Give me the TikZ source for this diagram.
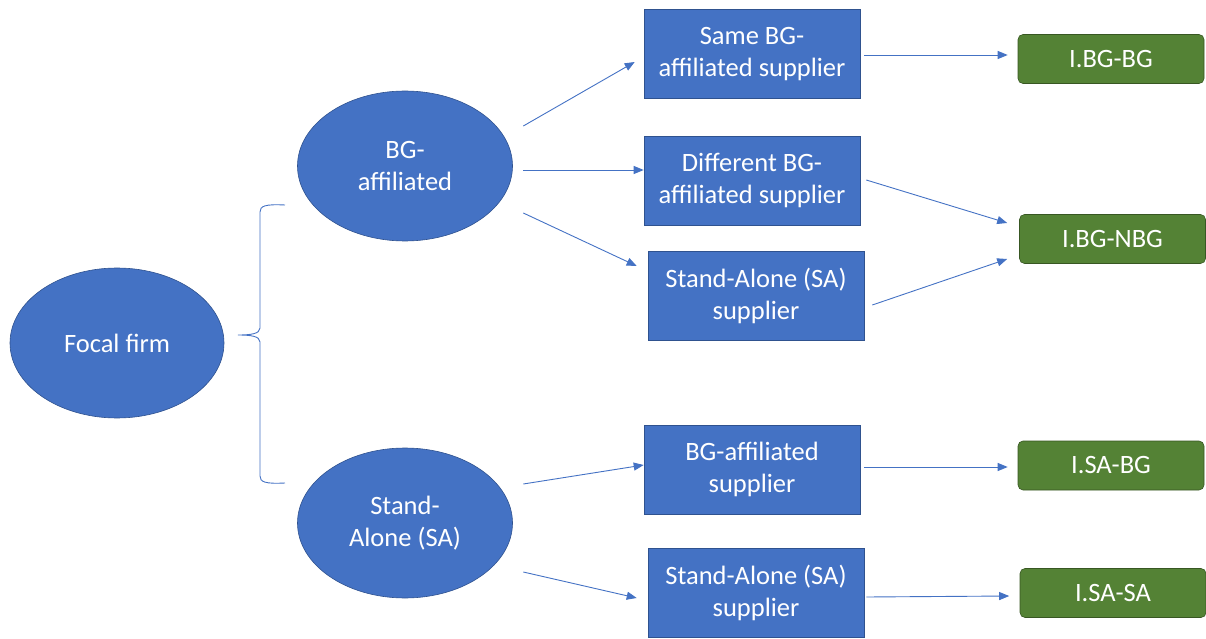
\documentclass[tikz,border=0pt]{standalone}
\usepackage{fontspec}
\setmainfont{Carlito}
\usetikzlibrary{arrows.meta}
\usetikzlibrary{positioning}
\usetikzlibrary{shapes.geometric}
\usetikzlibrary{calc}
\begin{document}
\begin{tikzpicture}[x=1pt,y=1pt]
  \definecolor{officeblue}{RGB}{68,114,196}
  \definecolor{blueline}{RGB}{47,82,143}
  \definecolor{officegreen}{RGB}{84,130,53}
  \definecolor{greenline}{RGB}{56,87,35}
  \tikzset{
    firm/.style={ellipse,draw=blueline,line width=0.6pt,fill=officeblue,text=white,
      inner sep=0pt,align=center,font=\fontsize{26.5}{32}\selectfont},
    supplier/.style={rectangle,draw=blueline,line width=0.6pt,fill=officeblue,text=white,
      minimum width=216,minimum height=89,inner sep=0pt,align=center,
      font=\fontsize{26.5}{32}\selectfont},
    outcome/.style={rectangle,rounded corners=5pt,draw=greenline,line width=0.6pt,
      fill=officegreen,text=white,minimum width=186,minimum height=49,inner sep=0pt,
      font=\fontsize{26.5}{32}\selectfont},
    link/.style={draw=officeblue,line width=0.9pt,-{Triangle[length=10pt,width=8pt]}},
  }
  \useasboundingbox (0,0) rectangle (1206,638);
  % ellipses
  \node[firm,minimum width=214,minimum height=150] (focal) at (117,295) {Focal firm};
  \node[firm,minimum width=215,minimum height=150] (bg) at (405,472) {BG-\\affiliated};
  \node[firm,minimum width=215,minimum height=150] (sa) at (405,115) {Stand-\\Alone (SA)};
  % brace
  \draw[officeblue,line width=0.9pt]
    (285,433) .. controls (265,434) and (260,432) .. (260,426) -- (260,310)
    .. controls (260,304) and (250,303) .. (238,303)
    .. controls (250,303) and (260,302) .. (260,296) -- (260,162)
    .. controls (260,156) and (265,154) .. (285,155);
  % suppliers
  \node[supplier] (s1) at (752,584) {Same BG-\\affiliated supplier};
  \node[supplier] (s2) at (752,457.5) {Different BG-\\affiliated supplier};
  \node[supplier] (s3) at (756,342.5) {Stand-Alone (SA)\\supplier};
  \node[supplier] (s4) at (752,168.5) {BG-affiliated\\supplier};
  \node[supplier] (s5) at (756,45) {Stand-Alone (SA)\\supplier};
  % outcomes
  \node[outcome] (g1) at (1111,579) {I.BG-BG};
  \node[outcome] (g2) at (1112.5,399) {I.BG-NBG};
  \node[outcome] (g3) at (1111,172.5) {I.SA-BG};
  \node[outcome] (g4) at (1113,45) {I.SA-SA};
  % arrows
  \draw[link] ([shift={(10.5,40)}]bg.east) -- ([shift={(-9,-8)}]s1.west);
  \draw[link] ([shift={(10.5,-4)}]bg.east) -- ([shift={(0,10.5)}]s2.west);
  \draw[link] ([shift={(10.5,-47)}]bg.east) -- ([shift={(-11,29.5)}]s3.west);
  \draw[link] ([shift={(10.5,39)}]sa.east) -- ([shift={(0,4.5)}]s4.west);
  \draw[link] ([shift={(10.5,-49)}]sa.east) -- ([shift={(-11,-5)}]s5.west);
  \draw[link] ([shift={(4,-1)}]s1.east) -- ([shift={(-10,4)}]g1.west);
  \draw[link] ([shift={(6,0.5)}]s2.east) -- ([shift={(-12,16)}]g2.west);
  \draw[link] ([shift={(8,-9.5)}]s3.east) -- ([shift={(-12,-20)}]g2.west);
  \draw[link] ([shift={(4,2.5)}]s4.east) -- ([shift={(-10,-1.5)}]g3.west);
  \draw[link] ([shift={(2,-4)}]s5.east) -- ([shift={(-10.5,-3)}]g4.west);
\end{tikzpicture}
\end{document}
